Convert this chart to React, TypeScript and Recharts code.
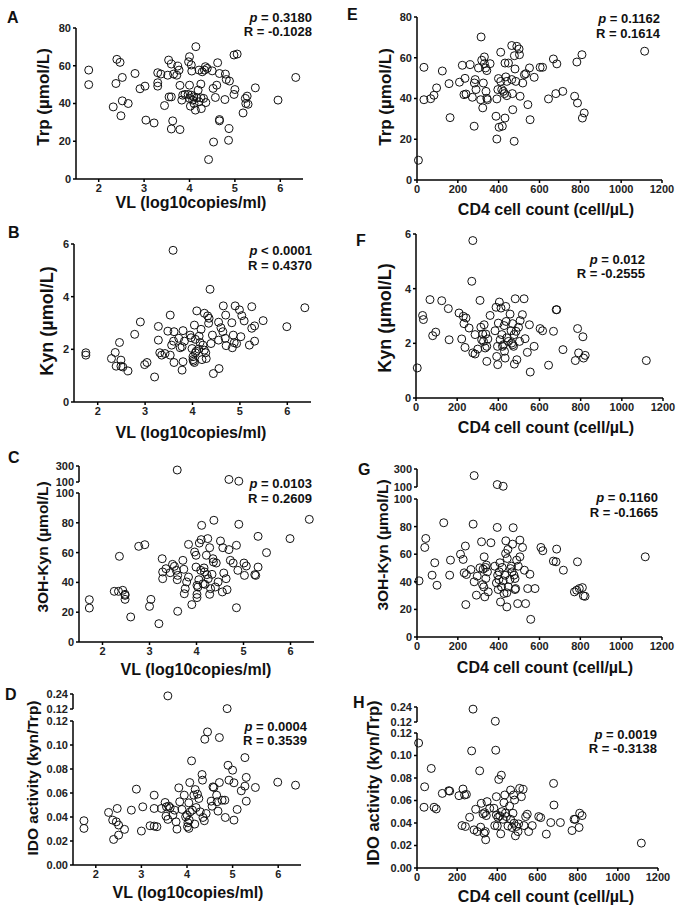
import { ScatterChart, Scatter, XAxis, YAxis } from 'recharts';

type Pt = [number, number];

// tick labels
const vlTicks = [2, 3, 4, 5, 6];
const cd4Ticks = [0, 200, 400, 600, 800, 1000, 1200];
const trpTicks = [0, 20, 40, 60, 80];
const kynTicks = [0, 2, 4, 6];
const ohkTicks = [0, 20, 40, 60, 80, 100];
const ohkHighTicks = [100, 300];
const idoTicks = [0, 0.02, 0.04, 0.06, 0.08, 0.1, 0.12];
const idoHighTicks = [0.12, 0.24];

// [x, y] pairs
const trpVL: Pt[] = [
  [1.78, 57.7], [1.78, 50], [2.32, 38.2], [2.4, 63.4], [2.47, 61.8], [2.38, 50.6], [2.52, 53.8], [2.52, 41.4],
  [2.49, 33.5], [2.65, 40], [2.8, 55.9], [2.91, 47.8], [3.02, 49.2], [3.04, 31.2], [3.22, 29.7], [3.3, 51],
  [3.3, 49.2], [3.3, 56.3], [3.37, 55.6], [3.45, 38.9], [3.52, 55], [3.54, 63], [3.6, 60.9], [3.55, 43.5],
  [3.6, 43.5], [3.63, 30.8], [3.6, 26.5], [3.65, 55.6], [3.72, 55], [3.74, 59.8], [3.77, 57.7], [3.79, 49.6],
  [3.79, 26.2], [3.83, 41.8], [3.85, 44.4], [3.9, 44.8], [3.97, 44.8], [4.0, 64.8], [3.98, 62.1], [4.0, 49.7],
  [4.04, 60.4], [4.05, 57.2], [4.04, 44.4], [4.0, 42.7], [4.02, 38.6], [4.07, 41.8], [4.09, 43.5], [4.1, 40],
  [4.14, 70.1], [4.13, 36.5], [4.16, 43], [4.19, 47.1], [4.21, 57.7], [4.21, 40.9], [4.25, 50.3], [4.25, 43],
  [4.28, 56.8], [4.26, 37.3], [4.31, 42.7], [4.33, 57.7], [4.35, 59.5], [4.39, 58.6], [4.36, 40.5], [4.42, 10.3],
  [4.5, 57.3], [4.52, 48], [4.53, 19.6], [4.57, 43.2], [4.6, 49.7], [4.62, 61.6], [4.66, 55.9], [4.66, 31.5],
  [4.66, 30.8], [4.79, 55.6], [4.78, 42.1], [4.81, 52.7], [4.88, 51.9], [4.87, 26.7], [4.86, 20.5], [4.98, 65.7],
  [5.05, 66.2], [5.0, 47.4], [4.98, 44.8], [5.18, 35], [5.23, 42.7], [5.24, 40], [5.27, 43.9], [5.29, 39.6],
  [5.45, 48.3], [5.95, 41.8], [6.34, 53.8],
];

const kynVL: Pt[] = [
  [1.75, 1.87], [1.75, 1.78], [2.29, 1.65], [2.37, 1.88], [2.39, 1.36], [2.46, 2.26], [2.49, 1.59], [2.49, 1.36],
  [2.53, 1.33], [2.64, 1.18], [2.78, 2.57], [2.9, 3.04], [2.99, 1.42], [3.04, 1.5], [3.2, 0.95], [3.28, 2.87],
  [3.28, 2.35], [3.31, 1.87], [3.35, 1.78], [3.42, 1.84], [3.48, 2.69], [3.53, 3.3], [3.53, 1.78], [3.56, 2.16],
  [3.59, 5.76], [3.6, 2.31], [3.61, 2.67], [3.61, 1.5], [3.71, 2.42], [3.74, 2.06], [3.78, 2.1], [3.8, 2.71],
  [3.8, 1.53], [3.78, 1.21], [3.83, 2.31], [3.95, 2.54], [3.97, 2.44], [3.99, 2.03], [4.01, 1.72], [4.01, 1.61],
  [4.02, 1.55], [4.04, 1.5], [4.04, 2.92], [4.06, 2.38], [4.06, 1.87], [4.08, 1.93], [4.09, 3.46], [4.13, 2.01],
  [4.14, 2.5], [4.16, 2.26], [4.18, 2.76], [4.2, 1.61], [4.22, 2.16], [4.25, 3.37], [4.25, 1.97], [4.28, 1.87],
  [4.29, 1.65], [4.32, 3.27], [4.34, 2.99], [4.35, 3.18], [4.37, 4.28], [4.39, 2.22], [4.42, 2.54], [4.44, 1.08],
  [4.55, 3.03], [4.55, 2.35], [4.56, 1.27], [4.6, 2.82], [4.64, 2.67], [4.65, 3.65], [4.69, 2.42], [4.7, 3.3],
  [4.71, 2.14], [4.83, 3.01], [4.84, 2.06], [4.86, 2.54], [4.88, 2.25], [4.9, 3.65], [4.93, 2.22], [4.99, 3.5],
  [5.02, 2.48], [5.04, 3.28], [5.09, 3.08], [5.2, 2.16], [5.25, 3.62], [5.25, 2.8], [5.31, 2.89], [5.31, 2.31],
  [5.49, 3.09], [5.99, 2.86], [6.37, 3.58],
];

const ohkVL: Pt[] = [
  [1.72, 28.4], [1.72, 22.8], [2.25, 34], [2.34, 34], [2.43, 34.7], [2.36, 57.5], [2.48, 32], [2.48, 31.3],
  [2.48, 28.6], [2.6, 16.8], [2.77, 64.2], [2.9, 65.3], [3.0, 23.9], [3.03, 28.6], [3.2, 12.3], [3.27, 55.9],
  [3.28, 47], [3.28, 42.5], [3.35, 49.2], [3.44, 46.5], [3.49, 52.1], [3.53, 50.8], [3.57, 48.1], [3.59, 41.8],
  [3.6, 20.6], [3.6, 44.7], [3.71, 54.8], [3.73, 48.8], [3.74, 32.4], [3.76, 35.8], [3.79, 40.3], [3.83, 43.6],
  [3.83, 65.5], [3.9, 25.1], [3.96, 60.4], [3.99, 58.2], [3.99, 50.3], [4.01, 38], [4.01, 32], [4.01, 29.8],
  [4.03, 36.9], [4.05, 41.8], [4.06, 66.4], [4.09, 48.1], [4.1, 68.7], [4.11, 78.3], [4.14, 39.1], [4.16, 49.7],
  [4.17, 47], [4.18, 38.7], [4.21, 58.2], [4.22, 45.2], [4.24, 69.4], [4.25, 42.5], [4.28, 63.3], [4.28, 32],
  [4.3, 35.8], [4.33, 45.4], [4.35, 55.9], [4.36, 53.7], [4.37, 81.7], [4.4, 36.9], [4.42, 53], [4.46, 40.3],
  [4.51, 67.8], [4.55, 33.6], [4.56, 63.3], [4.58, 46.3], [4.63, 42.5], [4.65, 35.1], [4.69, 62], [4.72, 54.8],
  [4.78, 53], [4.85, 64.9], [4.85, 23], [4.88, 48.1], [4.9, 79], [5.01, 53], [5.02, 44.7], [5.06, 51],
  [5.24, 45.2], [5.26, 44.7], [5.31, 50.3], [5.31, 70.9], [5.49, 60], [5.99, 69.4], [6.4, 82.3],
];
const ohkVLHigh: Pt[] = [[3.59, 250], [4.69, 132], [4.9, 110]];

const idoVL: Pt[] = [
  [1.74, 0.0369], [1.74, 0.0305], [2.28, 0.0438], [2.37, 0.0374], [2.39, 0.0213], [2.45, 0.036], [2.47, 0.0471],
  [2.5, 0.0333], [2.5, 0.0249], [2.63, 0.0297], [2.78, 0.0457], [2.89, 0.0632], [3.0, 0.0283], [3.03, 0.0485],
  [3.19, 0.0327], [3.28, 0.0324], [3.34, 0.0319], [3.28, 0.0582], [3.28, 0.0471], [3.44, 0.0471], [3.52, 0.0521],
  [3.55, 0.0485], [3.54, 0.0407], [3.58, 0.038], [3.6, 0.049], [3.63, 0.0477], [3.69, 0.0416], [3.73, 0.0457],
  [3.76, 0.036], [3.78, 0.0299], [3.82, 0.0643], [3.84, 0.0527], [3.89, 0.0463], [3.94, 0.0582], [3.97, 0.0402],
  [4.0, 0.0416], [4.01, 0.0319], [4.02, 0.0352], [4.04, 0.0518], [4.04, 0.0305], [4.06, 0.0687], [4.05, 0.0374],
  [4.07, 0.0443], [4.1, 0.0868], [4.12, 0.0457], [4.15, 0.0582], [4.17, 0.0341], [4.18, 0.0629], [4.2, 0.0479],
  [4.23, 0.059], [4.26, 0.0554], [4.29, 0.0443], [4.33, 0.0754], [4.34, 0.0707], [4.35, 0.0396], [4.38, 0.0369],
  [4.39, 0.1048], [4.42, 0.0429], [4.45, 0.1109], [4.53, 0.0532], [4.55, 0.049], [4.57, 0.0651], [4.59, 0.0646],
  [4.65, 0.0582], [4.66, 0.0527], [4.68, 0.0449], [4.71, 0.1062], [4.71, 0.0687], [4.77, 0.054], [4.83, 0.054],
  [4.84, 0.0396], [4.9, 0.0831], [4.92, 0.0707], [5.0, 0.079], [5.03, 0.0685], [5.03, 0.0374], [5.1, 0.0463],
  [5.19, 0.0618], [5.27, 0.0657], [5.27, 0.0895], [5.3, 0.073], [5.3, 0.0532], [5.5, 0.0646], [5.99, 0.069],
  [6.38, 0.0665],
];
const idoVLHigh: Pt[] = [[3.58, 0.225], [4.88, 0.123]];

const trpCD4: Pt[] = [
  [7, 9.7], [34, 55.3], [34, 39.4], [67, 39.9], [83, 41.6], [96, 45.2], [124, 53.5], [157, 47.3], [162, 30.6],
  [208, 48], [222, 56.3], [235, 49.9], [230, 41.9], [240, 42.2], [260, 56.6], [271, 40.6], [280, 26.4], [281, 47.6],
  [285, 49.3], [289, 44.4], [301, 55], [312, 39.4], [314, 70.2], [317, 58.8], [322, 35.4], [325, 47.6], [330, 57.1],
  [330, 60.4], [336, 55], [342, 53.7], [338, 43.5], [345, 39.4], [358, 57.1], [342, 40.1], [387, 31.3], [391, 20.1],
  [391, 39.8], [396, 44.4], [399, 49.8], [402, 25.9], [410, 62.7], [410, 48.4], [415, 44.4], [418, 26.4], [423, 43.5],
  [428, 42.4], [431, 57.4], [431, 30.4], [435, 50.6], [440, 48.4], [440, 41.4], [448, 57.4], [464, 66], [464, 49.3],
  [467, 42.4], [469, 34.5], [476, 19], [477, 61], [480, 54.5], [489, 65.6], [484, 48.4], [500, 64.3], [502, 61.5],
  [505, 41.1], [518, 47.6], [526, 51.7], [533, 52.2], [543, 37], [551, 55], [554, 29.6], [574, 50.4], [603, 55.3],
  [615, 55.3], [644, 39.8], [668, 59.4], [680, 42.4], [685, 57], [714, 43.5], [772, 41.1], [783, 57.9], [786, 37.8],
  [808, 61.5], [810, 30.4], [819, 32.9], [1115, 63.2],
];

const kynCD4: Pt[] = [
  [6, 1.1], [32, 3.02], [36, 2.87], [68, 3.6], [81, 2.28], [96, 2.41], [125, 3.56], [157, 3.27], [161, 2.13],
  [209, 3.11], [222, 2.16], [230, 2.99], [233, 2.72], [238, 1.85], [243, 2.93], [258, 2.56], [271, 4.27], [276, 5.76],
  [276, 1.65], [287, 1.61], [287, 2.32], [300, 1.79], [311, 3.57], [315, 2.59], [319, 2.13], [324, 2.34], [328, 2.07],
  [331, 2.68], [336, 1.83], [339, 2.34], [344, 1.34], [344, 1.89], [349, 2.16], [360, 3.02], [384, 2.46], [389, 3.32],
  [392, 1.52], [396, 1.89], [397, 1.22], [400, 2.74], [405, 3.51], [409, 2.13], [413, 3.29], [417, 2.32], [420, 1.89],
  [425, 1.95], [428, 2.65], [430, 1.71], [433, 1.46], [436, 3.35], [438, 2.8], [441, 2.2], [449, 2.07], [457, 3.07],
  [462, 2.46], [465, 2.01], [469, 2.72], [470, 1.95], [474, 1.89], [477, 2.32], [478, 1.24], [482, 3.63], [486, 2.44],
  [490, 1.4], [498, 2.59], [503, 2.07], [506, 2.83], [517, 3.05], [525, 3.63], [530, 2.17], [541, 1.67], [551, 2.68],
  [555, 0.95], [574, 1.89], [603, 2.54], [615, 2.46], [644, 1.2], [668, 2.44], [681, 3.23], [684, 3.23], [714, 1.77],
  [774, 1.37], [785, 2.54], [790, 1.65], [811, 2.24], [814, 1.46], [822, 1.56], [1119, 1.37],
];

const ohkCD4: Pt[] = [
  [10, 40.7], [43, 71.4], [38, 64.9], [74, 44.8], [87, 53.8], [98, 37.5], [131, 82.8], [164, 55.7], [160, 44.8],
  [213, 60], [226, 56.2], [237, 65.9], [231, 46.5], [242, 45.3], [239, 23.5], [264, 48.9], [275, 81.8], [280, 40],
  [291, 30.3], [295, 44.1], [308, 50.1], [316, 69], [321, 38], [324, 49.2], [327, 36.3], [329, 58.1], [332, 29.1],
  [336, 50.4], [337, 42.4], [340, 52.1], [345, 47.2], [349, 32.7], [362, 68.3], [381, 51.3], [389, 39.2], [393, 79.4],
  [395, 44.8], [398, 34.4], [401, 41.6], [403, 47.2], [406, 53.8], [409, 25.4], [414, 36.3], [417, 50.4], [422, 40.7],
  [426, 31.5], [431, 44.8], [434, 60.5], [435, 69.7], [440, 32], [440, 21.8], [442, 56.9], [445, 63.4], [447, 36.3],
  [455, 41.6], [458, 49.6], [463, 51.3], [466, 47.2], [468, 67.3], [471, 79.2], [475, 44.8], [480, 42.4], [480, 34.4],
  [483, 35.1], [488, 55.7], [493, 24.2], [496, 51.3], [504, 70.2], [504, 58.1], [517, 64.9], [526, 48.4], [532, 24.2],
  [542, 35.1], [553, 45.5], [557, 12.8], [578, 35.1], [607, 64.9], [616, 62.5], [668, 55], [681, 54.5], [684, 63.7],
  [717, 48.4], [786, 54.5], [771, 32.7], [782, 33.9], [795, 35.1], [810, 35.8], [815, 29.8], [823, 29.5], [1118, 58.1],
];
const ohkCD4High: Pt[] = [[280, 227], [393, 127], [422, 108]];

const idoCD4: Pt[] = [
  [8, 0.1111], [38, 0.0722], [35, 0.054], [71, 0.0885], [85, 0.054], [96, 0.0525], [126, 0.0663], [158, 0.0687],
  [163, 0.0684], [209, 0.0643], [229, 0.0702], [237, 0.0649], [246, 0.0654], [224, 0.0377], [241, 0.0369],
  [262, 0.0451], [272, 0.1041], [284, 0.0339], [292, 0.0522], [300, 0.0324], [312, 0.0864], [320, 0.0575],
  [317, 0.0363], [329, 0.0481], [334, 0.031], [337, 0.0492], [340, 0.0324], [342, 0.0251], [345, 0.0466],
  [349, 0.059], [362, 0.0531], [383, 0.0531], [387, 0.0377], [392, 0.1047], [395, 0.0634], [395, 0.0472],
  [400, 0.0374], [403, 0.0451], [407, 0.0787], [412, 0.0463], [417, 0.0304], [420, 0.0825], [423, 0.0501],
  [428, 0.0433], [433, 0.0581], [437, 0.0649], [440, 0.0487], [445, 0.0457], [453, 0.0374], [461, 0.0551],
  [466, 0.0693], [466, 0.0433], [473, 0.036], [478, 0.0487], [481, 0.0649], [483, 0.0398], [486, 0.0604],
  [490, 0.0286], [495, 0.0369], [503, 0.0324], [506, 0.0392], [511, 0.0708], [520, 0.0634], [528, 0.0699],
  [533, 0.0377], [541, 0.0457], [549, 0.0478], [556, 0.0324], [574, 0.0377], [606, 0.0457], [616, 0.0448],
  [644, 0.0301], [666, 0.0404], [680, 0.0752], [682, 0.056], [714, 0.0404], [772, 0.0333], [782, 0.0433],
  [788, 0.0433], [807, 0.036], [810, 0.0487], [822, 0.0466], [1117, 0.0221],
];
const idoCD4High: Pt[] = [[279, 0.223], [390, 0.126]];

// correlation text per panel: p operator, p value, R
const statsA = ['=', '0.3180', '-0.1028'];
const statsB = ['<', '0.0001', '0.4370'];
const statsC = ['=', '0.0103', '0.2609'];
const statsD = ['=', '0.0004', '0.3539'];
const statsE = ['=', '0.1162', '0.1614'];
const statsF = ['=', '0.012', '-0.2555'];
const statsG = ['=', '0.1160', '-0.1665'];
const statsH = ['=', '0.0019', '-0.3138'];

const FONT = '"Liberation Sans", Arial, Helvetica, sans-serif';
const YW = 40;
const MT = 6;
const MR = 18;
const XH = 30;

const toRows = (pts: Pt[]) => pts.map(([x, y]) => ({ x, y }));

const Ring = (props: any) => (
  <circle cx={props.cx} cy={props.cy} r={4} fill="none" stroke="#111" strokeWidth={1} />
);

const tickStyle = { fontSize: 11, fontWeight: 700, fill: '#222', fontFamily: FONT };
const lineStyle = { stroke: '#000', strokeWidth: 1.5 };

interface PanelProps {
  letter: string;
  letterAt: [number, number];
  data: Pt[];
  high?: Pt[];
  xDomain: [number, number];
  xTicks: number[];
  yDomain: [number, number];
  yTicks: number[];
  highDomain?: [number, number];
  highTicks?: number[];
  fmt?: (v: number) => string;
  box: { x0: number; x1: number; top: number; bottom: number };
  highBox?: { top: number; bottom: number };
  yLabel: string;
  yLabelAt: [number, number];
  yLabelSize: number;
  xLabel: string;
  xLabelAt: [number, number];
  stats: string[];
  statsAt: [number, number, number];
}

function Panel(p: PanelProps) {
  const { box } = p;
  const w = box.x1 - box.x0 + YW + MR;
  const h = box.bottom - box.top + MT + XH;
  const fmt = p.fmt || ((v: number) => String(v));
  const statStyle = {
    position: 'absolute' as const, right: 683 - p.statsAt[0], fontSize: 13, fontWeight: 700,
    lineHeight: '12px', whiteSpace: 'nowrap' as const, color: '#111',
  };
  return (
    <>
      <div style={{ position: 'absolute', left: box.x0 - YW, top: box.top - MT }}>
        <ScatterChart width={w} height={h} margin={{ top: MT, right: MR, left: 0, bottom: 0 }}>
          <XAxis
            type="number"
            dataKey="x"
            domain={p.xDomain}
            ticks={p.xTicks}
            interval={0}
            height={XH}
            tickSize={3}
            tickMargin={2}
            axisLine={lineStyle}
            tickLine={lineStyle}
            tick={tickStyle}
          />
          <YAxis
            type="number"
            dataKey="y"
            domain={p.yDomain}
            ticks={p.yTicks}
            interval={0}
            width={YW}
            tickSize={3}
            tickMargin={2}
            axisLine={lineStyle}
            tickLine={lineStyle}
            tick={tickStyle}
            tickFormatter={fmt}
          />
          <Scatter data={toRows(p.data)} shape={Ring} isAnimationActive={false} />
        </ScatterChart>
      </div>
      {p.high && p.highBox && (
        <div style={{ position: 'absolute', left: box.x0 - YW, top: p.highBox.top - MT }}>
          <ScatterChart
            width={w}
            height={p.highBox.bottom - p.highBox.top + MT + 6}
            margin={{ top: MT, right: MR, left: 0, bottom: 6 }}
          >
            <XAxis type="number" dataKey="x" domain={p.xDomain} hide />
            <YAxis
              type="number"
              dataKey="y"
              domain={p.highDomain}
              ticks={p.highTicks}
              interval={0}
              width={YW}
              tickSize={3}
              tickMargin={2}
              axisLine={lineStyle}
              tickLine={lineStyle}
              tick={tickStyle}
              tickFormatter={fmt}
            />
            <Scatter data={toRows(p.high)} shape={Ring} isAnimationActive={false} />
          </ScatterChart>
        </div>
      )}
      <div
        style={{
          position: 'absolute', left: p.letterAt[0], top: p.letterAt[1] - 8, fontSize: 16,
          fontWeight: 700, lineHeight: '16px', color: '#111',
        }}
      >
        {p.letter}
      </div>
      <div
        style={{
          position: 'absolute', left: p.yLabelAt[0], top: p.yLabelAt[1], fontSize: p.yLabelSize,
          fontWeight: 700, lineHeight: 1, whiteSpace: 'nowrap', color: '#111',
          transform: 'translate(-50%, -50%) rotate(-90deg)',
        }}
      >
        {p.yLabel}
      </div>
      <div
        style={{
          position: 'absolute', left: p.xLabelAt[0], top: p.xLabelAt[1], fontSize: 16,
          fontWeight: 700, lineHeight: 1, whiteSpace: 'nowrap', color: '#111',
          transform: 'translate(-50%, -50%)',
        }}
      >
        {p.xLabel}
      </div>
      <div style={{ ...statStyle, top: p.statsAt[1] - 6 }}>
        <i>p</i> {p.stats[0]} {p.stats[1]}
      </div>
      <div style={{ ...statStyle, top: p.statsAt[2] - 6 }}>R = {p.stats[2]}</div>
    </>
  );
}

const vlLabel = 'VL (log10copies/ml)';
const cd4Label = 'CD4 cell count (cell/µL)';
const idoFmt = (v: number) => v.toFixed(2);

export default function App() {
  return (
    <div
      style={{
        position: 'absolute', left: 0, top: 0, width: 683, height: 912, background: '#fff',
        fontFamily: FONT, overflow: 'hidden',
      }}
    >
      <Panel
        letter="A" letterAt={[7, 18]} data={trpVL}
        xDomain={[1.5, 6.5]} xTicks={vlTicks} yDomain={[0, 80]} yTicks={trpTicks}
        box={{ x0: 76, x1: 303, top: 28, bottom: 179 }}
        yLabel="Trp (µmol/L)" yLabelAt={[43, 97]} yLabelSize={17}
        xLabel={vlLabel} xLabelAt={[191, 203]}
        stats={statsA} statsAt={[312, 18, 32]}
      />
      <Panel
        letter="B" letterAt={[8, 233]} data={kynVL}
        xDomain={[1.5, 6.5]} xTicks={vlTicks} yDomain={[0, 6]} yTicks={kynTicks}
        box={{ x0: 74, x1: 311, top: 244, bottom: 402 }}
        yLabel="Kyn (µmol/L)" yLabelAt={[47, 321]} yLabelSize={18}
        xLabel={vlLabel} xLabelAt={[191, 433]}
        stats={statsB} statsAt={[312, 251, 266]}
      />
      <Panel
        letter="C" letterAt={[8, 458]} data={ohkVL} high={ohkVLHigh}
        xDomain={[1.5, 6.5]} xTicks={vlTicks} yDomain={[0, 100]} yTicks={ohkTicks}
        highDomain={[100, 300]} highTicks={ohkHighTicks}
        box={{ x0: 79, x1: 314, top: 493, bottom: 642 }} highBox={{ top: 466, bottom: 482 }}
        yLabel="3OH-Kyn (µmol/L)" yLabelAt={[43, 547]} yLabelSize={15.5}
        xLabel={vlLabel} xLabelAt={[196, 670]}
        stats={statsC} statsAt={[312, 484, 499]}
      />
      <Panel
        letter="D" letterAt={[5, 695]} data={idoVL} high={idoVLHigh}
        xDomain={[1.5, 6.5]} xTicks={vlTicks} yDomain={[0, 0.12]} yTicks={idoTicks}
        highDomain={[0.12, 0.24]} highTicks={idoHighTicks} fmt={idoFmt}
        box={{ x0: 73, x1: 301, top: 721, bottom: 865 }} highBox={{ top: 694, bottom: 709 }}
        yLabel="IDO activity (kyn/Trp)" yLabelAt={[33, 778]} yLabelSize={15.5}
        xLabel={vlLabel} xLabelAt={[188, 893]}
        stats={statsD} statsAt={[307, 727, 741]}
      />
      <Panel
        letter="E" letterAt={[347, 15]} data={trpCD4}
        xDomain={[0, 1200]} xTicks={cd4Ticks} yDomain={[0, 80]} yTicks={trpTicks}
        box={{ x0: 417, x1: 662, top: 17, bottom: 180 }}
        yLabel="Trp (µmol/L)" yLabelAt={[385, 97]} yLabelSize={17}
        xLabel={cd4Label} xLabelAt={[546, 210]}
        stats={statsE} statsAt={[660, 19, 34]}
      />
      <Panel
        letter="F" letterAt={[356, 241]} data={kynCD4}
        xDomain={[0, 1200]} xTicks={cd4Ticks} yDomain={[0, 6]} yTicks={kynTicks}
        box={{ x0: 416, x1: 663, top: 234, bottom: 398 }}
        yLabel="Kyn (µmol/L)" yLabelAt={[385, 318]} yLabelSize={18}
        xLabel={cd4Label} xLabelAt={[546, 428]}
        stats={statsF} statsAt={[645, 260, 274]}
      />
      <Panel
        letter="G" letterAt={[358, 470]} data={ohkCD4} high={ohkCD4High}
        xDomain={[0, 1200]} xTicks={cd4Ticks} yDomain={[0, 100]} yTicks={ohkTicks}
        highDomain={[100, 300]} highTicks={ohkHighTicks}
        box={{ x0: 417, x1: 662, top: 499, bottom: 637 }} highBox={{ top: 469, bottom: 487 }}
        yLabel="3OH-Kyn (µmol/L)" yLabelAt={[383, 545]} yLabelSize={15.5}
        xLabel={cd4Label} xLabelAt={[545, 668]}
        stats={statsG} statsAt={[658, 498, 513]}
      />
      <Panel
        letter="H" letterAt={[353, 703]} data={idoCD4} high={idoCD4High}
        xDomain={[0, 1200]} xTicks={cd4Ticks} yDomain={[0, 0.12]} yTicks={idoTicks}
        highDomain={[0.12, 0.24]} highTicks={idoHighTicks} fmt={idoFmt}
        box={{ x0: 417, x1: 658, top: 733, bottom: 868 }} highBox={{ top: 707, bottom: 722 }}
        yLabel="IDO activity (kyn/Trp)" yLabelAt={[373, 783]} yLabelSize={16.5}
        xLabel={cd4Label} xLabelAt={[546, 897]}
        stats={statsH} statsAt={[657, 735, 749]}
      />
    </div>
  );
}
